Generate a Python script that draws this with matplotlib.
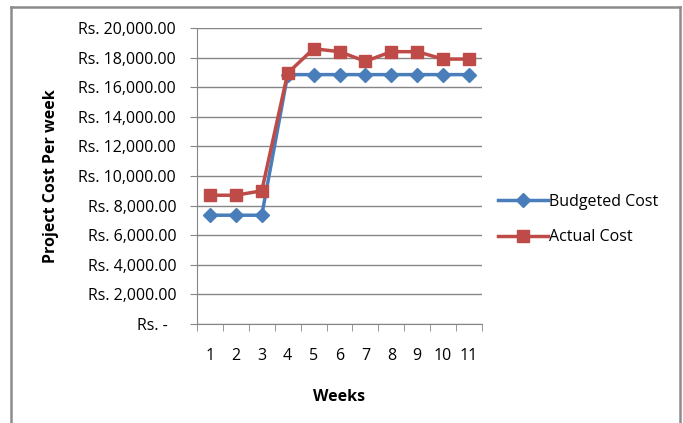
import matplotlib.pyplot as plt
from matplotlib.ticker import FixedLocator, FuncFormatter

weeks = [1, 2, 3, 4, 5, 6, 7, 8, 9, 10, 11]
budgeted_cost = [7350, 7350, 7350, 16850, 16850, 16850, 16850, 16850, 16850, 16850, 16850]
actual_cost = [8700, 8700, 9000, 16950, 18600, 18400, 17750, 18400, 18400, 17900, 17900]
y_ticks = list(range(0, 20001, 2000))

plt.rcParams['font.family'] = ['Open Sans', 'DejaVu Sans']

fig = plt.figure(figsize=(6.83, 4.23), dpi=100)
ax = fig.add_axes([197 / 683, 99 / 423, 285 / 683, 296 / 423])

# chart border (no bottom edge visible)
for xs, ys in [([11 / 683, 11 / 683], [0, 416 / 423]),
               ([11 / 683, 680 / 683], [416 / 423, 416 / 423]),
               ([680 / 683, 680 / 683], [0, 416 / 423])]:
    fig.add_artist(plt.Line2D(xs, ys, color='#8c8c8c', lw=1.8, transform=fig.transFigure))

ax.plot(weeks, budgeted_cost, color='#4a7ebb', lw=2.5, marker='D', ms=7,
        label='Budgeted Cost', zorder=3)
ax.plot(weeks, actual_cost, color='#be4b48', lw=2.5, marker='s', ms=9,
        label='Actual Cost', zorder=4)

ax.set_xlim(0.5, 11.5)
ax.set_ylim(0, 20000)
ax.set_yticks(y_ticks)


def rs_format(v, pos):
    if v == 0:
        return 'Rs. -  '
    return f'Rs. {v:,.2f}'


ax.yaxis.set_major_formatter(FuncFormatter(rs_format))
ax.set_xticks(weeks)
ax.xaxis.set_minor_locator(FixedLocator([w + 0.5 for w in [0] + weeks]))
ax.tick_params(axis='x', which='major', length=0, pad=17, labelsize=11.5, colors='#000000')
ax.tick_params(axis='x', which='minor', length=5, color='#868686', direction='out')
ax.tick_params(axis='y', length=5, color='#868686', labelsize=11.5, pad=10)

ax.grid(axis='y', color='#868686', lw=1)
ax.set_axisbelow(True)
for side in ['top', 'right']:
    ax.spines[side].set_visible(False)
for side in ['left', 'bottom']:
    ax.spines[side].set_color('#868686')

ax.set_xlabel('Weeks', fontweight='bold', fontsize=11.5, labelpad=18)
ax.set_ylabel('Project Cost Per week', fontweight='bold', fontsize=11.5, labelpad=14)

ax.legend(loc='center left', bbox_to_anchor=(1.007, 0.353), frameon=False,
          fontsize=11.5, handlelength=3.1, handletextpad=0.1, labelspacing=1.25)

fig.savefig('out.png', dpi=100)
